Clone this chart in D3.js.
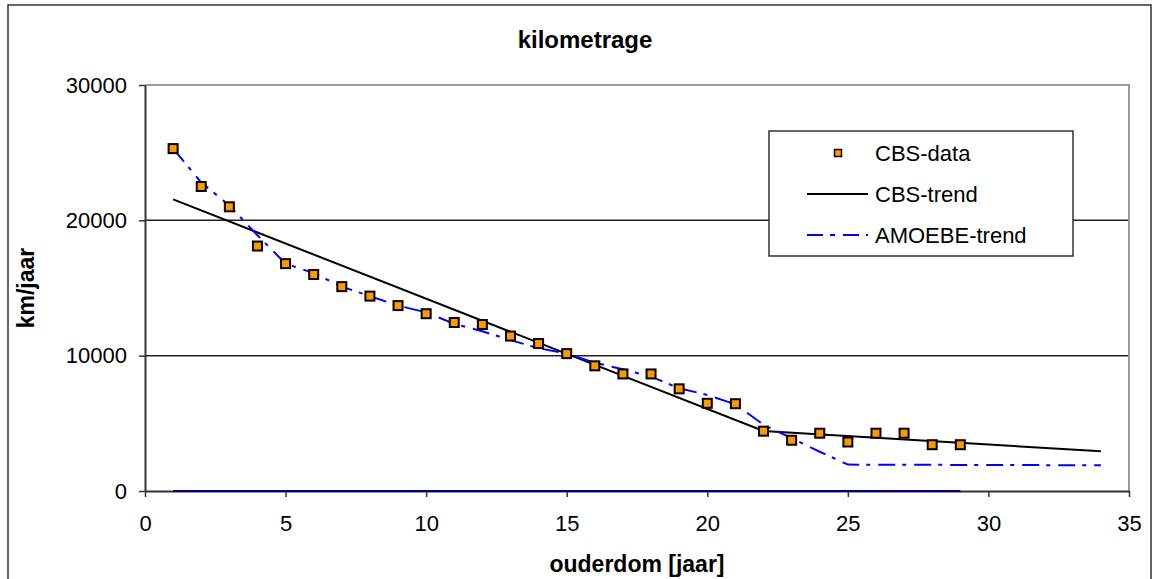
<!DOCTYPE html>
<html>
<head>
<meta charset="utf-8">
<script src="https://cdn.jsdelivr.net/npm/d3@7"></script>
<style>
  body { margin: 0; background: #fff; }
  svg text { font-family: Arial, "Liberation Sans", sans-serif; fill: #000; }
</style>
</head>
<body>
<div id="chart"></div>
<script>
// values
var ageYears = [1, 2, 3, 4, 5, 6, 7, 8, 9, 10, 11, 12, 13, 14, 15, 16, 17, 18, 19, 20, 21, 22, 23, 24, 25, 26, 27, 28, 29];
var cbsData = [25300, 22500, 21000, 18100, 16800, 16000, 15100, 14400, 13700, 13100, 12450, 12300, 11450, 10900, 10150,
               9250, 8650, 8650, 7550, 6480, 6450, 4420, 3750, 4270, 3620, 4270, 4270, 3420, 3420];
var zeroSeries = [0, 0, 0, 0, 0, 0, 0, 0, 0, 0, 0, 0, 0, 0, 0, 0, 0, 0, 0, 0, 0, 0, 0, 0, 0, 0, 0, 0, 0];

var cbsTrendYears = [1, 22, 34];
var cbsTrendValues = [21550, 4430, 2930];

var amoebeYears = [1, 2, 3, 4, 5, 6, 7, 8, 9, 10, 11, 12, 13, 14, 15, 16, 17, 18, 19, 20, 21, 22, 23, 24, 25, 34];
var amoebeValues = [25300, 22800, 21100, 18900, 16800, 16100, 15100, 14400, 13700, 13200, 12350, 11800, 11150, 10550, 10150,
                    9480, 8990, 8450, 7590, 7100, 6400, 4900, 3900, 2900, 1950, 1900];

var xTicks = [0, 5, 10, 15, 20, 25, 30, 35];
var yTicks = [0, 10000, 20000, 30000];
var legendLabels = ["CBS-data", "CBS-trend", "AMOEBE-trend"];

var width = 1153, height = 579;
var plot = {left: 145, top: 85, right: 1129, bottom: 491};

var svg = d3.select("#chart").append("svg")
            .attr("width", width)
            .attr("height", height);

// outer chart border
svg.append("rect")
   .attr("x", 8).attr("y", 5)
   .attr("width", 1143).attr("height", 600)
   .attr("fill", "#fff")
   .attr("stroke", "#333")
   .attr("stroke-width", 1.5);

var xScale = d3.scaleLinear().domain([0, 35]).range([plot.left, plot.right]);
var yScale = d3.scaleLinear().domain([0, 30000]).range([plot.bottom, plot.top]);

// gridlines
svg.append("g")
   .selectAll("line")
   .data(yTicks.filter(function(v) { return v > 0 && v < 30000; }))
   .enter().append("line")
   .attr("x1", plot.left).attr("x2", plot.right)
   .attr("y1", function(v) { return yScale(v); })
   .attr("y2", function(v) { return yScale(v); })
   .attr("stroke", "#222")
   .attr("stroke-width", 1.5);

// plot area top/right border (grey)
svg.append("path")
   .attr("d", "M" + plot.left + "," + yScale(30000) + "H" + plot.right + "V" + plot.bottom)
   .attr("fill", "none")
   .attr("stroke", "#999")
   .attr("stroke-width", 2);

var xAxis = d3.axisBottom(xScale).tickValues(xTicks).tickSize(6).tickPadding(18).tickSizeOuter(0);
var yAxis = d3.axisLeft(yScale).tickValues(yTicks).tickSize(6).tickPadding(12).tickFormat(d3.format("d")).tickSizeOuter(0);

var gx = svg.append("g")
            .attr("transform", "translate(0," + plot.bottom + ")")
            .call(xAxis);
var gy = svg.append("g")
            .attr("transform", "translate(" + plot.left + ",0)")
            .call(yAxis);

[gx, gy].forEach(function(g) {
    g.select(".domain").attr("stroke", "#333").attr("stroke-width", 2);
    g.selectAll(".tick line").attr("stroke", "#333").attr("stroke-width", 1.5);
    g.selectAll(".tick text")
     .attr("font-family", "Arial, 'Liberation Sans', sans-serif")
     .attr("font-size", 22)
     .attr("fill", "#000");
});

// hidden zero series along the x axis
var line = d3.line()
             .x(function(d) { return xScale(d[0]); })
             .y(function(d) { return yScale(d[1]); });

svg.append("path")
   .datum(d3.zip(ageYears, zeroSeries))
   .attr("d", line)
   .attr("fill", "none")
   .attr("stroke", "#000080")
   .attr("stroke-width", 2);

svg.append("path")
   .datum(d3.zip(cbsTrendYears, cbsTrendValues))
   .attr("d", line)
   .attr("fill", "none")
   .attr("stroke", "#000")
   .attr("stroke-width", 2);

svg.append("path")
   .datum(d3.zip(amoebeYears, amoebeValues))
   .attr("d", line)
   .attr("fill", "none")
   .attr("stroke", "#0000ff")
   .attr("stroke-width", 2)
   .attr("stroke-dasharray", "17,7,4,8");

var sq = 9;
svg.append("g")
   .selectAll("rect")
   .data(d3.zip(ageYears, cbsData))
   .enter().append("rect")
   .attr("x", function(d) { return xScale(d[0]) - sq / 2; })
   .attr("y", function(d) { return yScale(d[1]) - sq / 2; })
   .attr("width", sq).attr("height", sq)
   .attr("fill", "#ff9900")
   .attr("stroke", "#000")
   .attr("stroke-width", 2);

// title + axis labels
svg.append("text")
   .attr("x", 585).attr("y", 48)
   .attr("text-anchor", "middle")
   .attr("font-size", 24).attr("font-weight", "bold")
   .text("kilometrage");

svg.append("text")
   .attr("x", 637).attr("y", 572)
   .attr("text-anchor", "middle")
   .attr("font-size", 23).attr("font-weight", "bold")
   .text("ouderdom [jaar]");

svg.append("text")
   .attr("transform", "translate(34,288) rotate(-90)")
   .attr("text-anchor", "middle")
   .attr("font-size", 23).attr("font-weight", "bold")
   .text("km/jaar");

// legend
var legend = svg.append("g").attr("transform", "translate(769,131)");
legend.append("rect")
      .attr("width", 304).attr("height", 125)
      .attr("fill", "#fff")
      .attr("stroke", "#333")
      .attr("stroke-width", 1.5);

var rowY = function(i) { return 22 + i * 41; };

legend.selectAll("text")
      .data(legendLabels)
      .enter().append("text")
      .attr("x", 106)
      .attr("y", function(d, i) { return rowY(i); })
      .attr("dy", "0.35em")
      .attr("font-size", 22)
      .text(function(d) { return d; });

legend.append("rect")
      .attr("x", 69 - 3.5).attr("y", rowY(0) - 3.5)
      .attr("width", 7).attr("height", 7)
      .attr("fill", "#ff9900")
      .attr("stroke", "#000")
      .attr("stroke-width", 1.5);

legend.append("line")
      .attr("x1", 38).attr("x2", 99)
      .attr("y1", rowY(1)).attr("y2", rowY(1))
      .attr("stroke", "#000").attr("stroke-width", 2);

legend.append("line")
      .attr("x1", 38).attr("x2", 99)
      .attr("y1", rowY(2)).attr("y2", rowY(2))
      .attr("stroke", "#0000ff").attr("stroke-width", 2)
      .attr("stroke-dasharray", "16,7,5,8");
</script>
</body>
</html>
